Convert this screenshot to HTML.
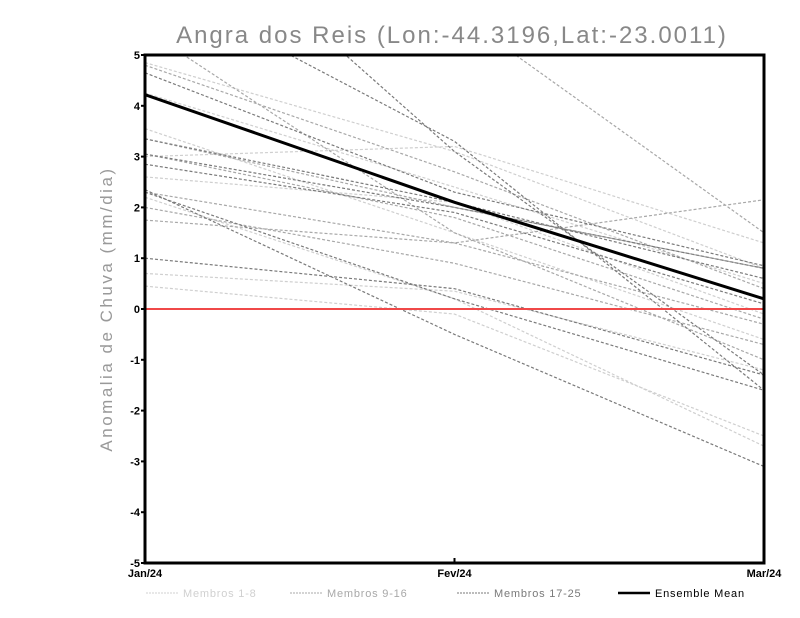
<!DOCTYPE html>
<html><head><meta charset="utf-8"><style>
body{margin:0;background:#fff;width:800px;height:618px;overflow:hidden}
svg{display:block;font-family:"Liberation Sans",sans-serif}
</style></head><body>
<svg id="chart" width="800" height="618">
<defs><clipPath id="pc"><rect x="145" y="55" width="619" height="508"/></clipPath></defs>
<text x="452" y="43" text-anchor="middle" font-size="24" letter-spacing="2" fill="#888">Angra dos Reis (Lon:-44.3196,Lat:-23.0011)</text>
<text transform="translate(112,309) rotate(-90)" text-anchor="middle" font-size="17" letter-spacing="2.5" fill="#999">Anomalia de Chuva (mm/dia)</text>
<g id="marks" clip-path="url(#pc)"></g>
<g id="axes"></g>
</svg>
<script>
const categories = ["Jan/24","Fev/24","Mar/24"];
const yTicks = [5,4,3,2,1,0,-1,-2,-3,-4,-5];
const membersLight = [[4.85,3.1,0.8],[4.25,2.4,0.5],[3.55,1.5,-0.6],[3.0,3.2,1.3],[2.6,2.1,-0.1],[0.7,0.35,-1.2],[0.45,-0.1,-2.5],[2.2,0.2,-2.7]];
const membersMid = [[10,5.86,1.5],[4.8,2.7,0.4],[3.35,2.0,0.8],[2.3,1.3,2.15],[1.75,1.3,-0.3],[5.5,1.5,-1.0],[3.05,1.8,-0.2],[2.0,0.9,-0.7]];
const membersDark = [[8.5,3.1,-1.3],[4.65,2.3,0.85],[3.35,2.1,0.6],[3.05,2.0,0.8],[2.3,0.2,-1.6],[2.35,-0.5,-3.1],[6.5,3.3,-1.6],[1.0,0.4,-1.3],[2.85,1.9,0.1]];
const ensembleMean = [4.22,2.1,0.2];
const legendLabels = ["Membros 1-8","Membros 9-16","Membros 17-25","Ensemble Mean"];

const NS="http://www.w3.org/2000/svg";
const X0=145,X1=764,Y0=55,Y1=563,YMAX=5,YMIN=-5;
const xs=i=>X0+(X1-X0)*i/(categories.length-1);
const ys=v=>Y0+(YMAX-v)/(YMAX-YMIN)*(Y1-Y0);
function mk(t,a,p){const e=document.createElementNS(NS,t);for(const k in a)e.setAttribute(k,a[k]);(p||document.getElementById('chart')).appendChild(e);return e;}
const marks=document.getElementById('marks'),axes=document.getElementById('axes');
function series(arr,color,name,dash,w){arr.forEach((s,j)=>{
 const el=mk('polyline',{points:s.map((v,i)=>xs(i)+','+ys(v)).join(' '),fill:'none',stroke:color,'stroke-width':w},marks);
 if(dash)el.setAttribute('stroke-dasharray',dash);
 
 
});}
series(membersLight,'#cfcfcf','member-light','3,2',1.2);
series(membersMid,'#a8a8a8','member-mid','3,2',1.2);
series(membersDark,'#7a7a7a','member-dark','3,2',1.2);
const zl=mk('line',{x1:X0,x2:X1,y1:ys(0),y2:ys(0),stroke:'#f04848','stroke-width':2},marks);


series([ensembleMean],'#000','ensemble-mean',null,3);
const fr=mk('rect',{x:X0,y:Y0,width:X1-X0,height:Y1-Y0,fill:'none',stroke:'#000','stroke-width':3},axes);


yTicks.forEach(v=>{
 mk('line',{x1:X0-4,x2:X0,y1:ys(v),y2:ys(v),stroke:'#000','stroke-width':2},axes);
 const t=mk('text',{x:X0-5,y:ys(v)+4,'text-anchor':'end','font-size':11,'font-weight':'bold'},axes);
 t.textContent=v;
 
 
});
categories.forEach((c,i)=>{
 mk('line',{x1:xs(i),x2:xs(i),y1:Y1,y2:Y1-5,stroke:'#000','stroke-width':2},axes);
 const t=mk('text',{x:xs(i),y:Y1+14,'text-anchor':'middle','font-size':11,'font-weight':'bold'},axes);
 t.textContent=c;
 
 
});
const lx=[146,290,457,618],lc=['#d0d0d0','#a8a8a8','#7a7a7a','#000'];
legendLabels.forEach((l,i)=>{
 const ln=mk('line',{x1:lx[i],x2:lx[i]+32,y1:593,y2:593,stroke:lc[i],'stroke-width':i==3?2.5:1},axes);
 if(i<3)ln.setAttribute('stroke-dasharray','2,1');
 const t=mk('text',{x:lx[i]+37,y:597,'font-size':11,'letter-spacing':0.8,fill:i==3?'#000':lc[i]},axes);
 t.textContent=l;
 
 
});
</script>
</body></html>
